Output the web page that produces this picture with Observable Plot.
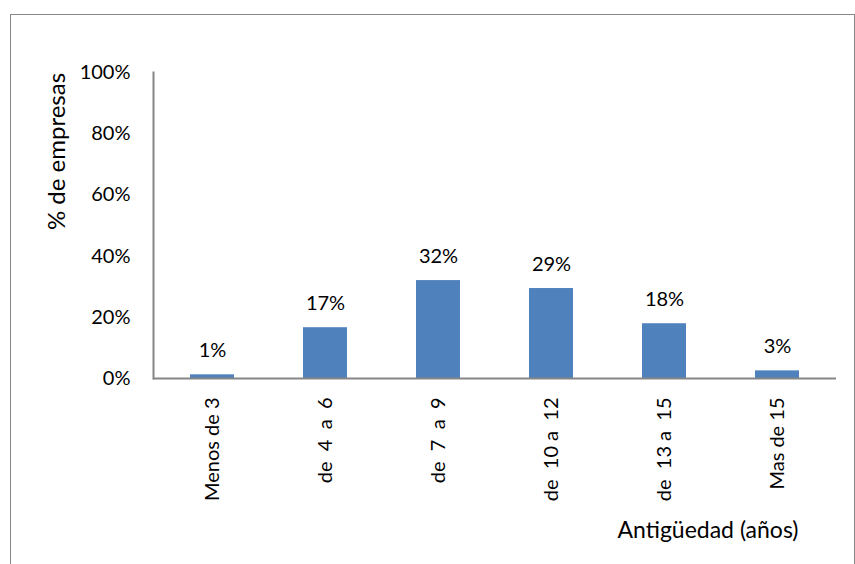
<!DOCTYPE html>
<html>
<head>
<meta charset="utf-8">
<script src="https://cdn.jsdelivr.net/npm/d3@7"></script>
<script src="https://cdn.jsdelivr.net/npm/@observablehq/plot@0.6"></script>
<style>
  html, body { margin: 0; padding: 0; background: #fff; overflow: hidden; }
  #wrap { position: relative; width: 855px; height: 564px; }
  #frame { position: absolute; left: 10px; top: 14px; width: 843px; height: 600px;
           border: 1.5px solid #878787; border-bottom: none; pointer-events: none; }
  #chart { position: absolute; left: 0; top: 0; }
</style>
</head>
<body>
<div id="wrap"><div id="chart"></div><div id="frame"></div></div>
<script>
const categories = ["Menos de 3", "de  4  a  6", "de  7  a  9", "de  10 a  12", "de  13 a  15", "Mas de 15"];
const values = [1.2, 16.6, 32, 29.4, 17.9, 2.5];
const yTicks = [0, 20, 40, 60, 80, 100];
const yTitle = "% de empresas";
const xTitle = "Antigüedad (años)";

const data = categories.map((c, i) => ({cat: c, value: values[i]}));
const nb = s => s.replace(/ /g, "\u00a0");

const chart = Plot.plot({
  width: 855,
  height: 564,
  marginLeft: 153,
  marginRight: 19,
  marginTop: 72,
  marginBottom: 186,
  style: {fontFamily: "Lato", color: "#000", background: "transparent"},
  x: {domain: categories, paddingInner: 0.608, paddingOuter: 0.304, label: null},
  y: {domain: [0, 100], label: null},
  marks: [
    Plot.barY(data, {x: "cat", y: "value", fill: "#4F81BD"}),
    Plot.frame({anchor: "left", stroke: "#868686", strokeWidth: 2}),
    Plot.ruleY([0], {stroke: "#868686", strokeWidth: 2}),
    Plot.axisY({ticks: yTicks, tickFormat: d => d + "%", tickSize: 0, tickPadding: 23, fontSize: 20, label: null}),
    Plot.axisX({tickRotate: -90, tickSize: 0, tickPadding: 19, fontSize: 20, tickFormat: nb, label: null}),
    Plot.text(data, {x: "cat", y: "value", text: d => Math.round(d.value) + "%", dy: -24, fontSize: 20, fill: "#000"}),
    Plot.text([yTitle], {text: d => d, frameAnchor: "top-left", dx: -106, dy: 79, rotate: -90, textAnchor: "middle", fontSize: 24, fill: "#000"}),
    Plot.text([xTitle], {text: d => d, frameAnchor: "bottom-right", dx: -38, dy: 159, textAnchor: "end", fontSize: 23, fill: "#000"})
  ]
});
document.getElementById("chart").appendChild(chart);
</script>
</body>
</html>
